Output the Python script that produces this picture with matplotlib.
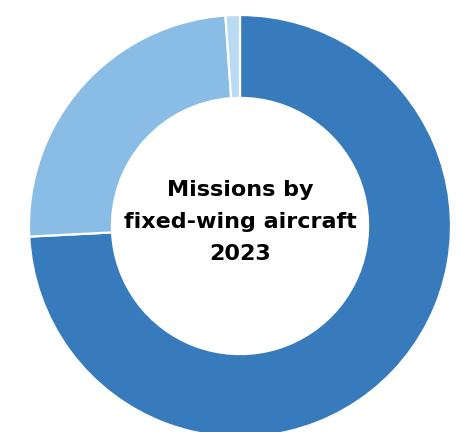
import matplotlib
matplotlib.use("Agg")
import matplotlib.pyplot as plt

# shares of missions (percent), clockwise from 12 o'clock
labels = ["Category A", "Category B", "Category C"]
shares = [74.2, 24.7, 1.1]
colors = ["#387bbd", "#89bde6", "#bad9f2"]
center_text = "Missions by\nfixed-wing aircraft\n2023"

W, H = 461, 432
fig = plt.figure(figsize=(W / 100, H / 100), dpi=100)
cx, cy, r = 240, 226, 211
ax = fig.add_axes([(cx - r) / W, (H - cy - r) / H, 2 * r / W, 2 * r / H])
ax.pie(shares, colors=colors, startangle=90, counterclock=False, radius=1,
       wedgeprops=dict(width=0.393, edgecolor="white", linewidth=1.6))
ax.set_xlim(-1, 1); ax.set_ylim(-1, 1)
ax.set_aspect("equal")
ax.axis("off")
ax.text(0, 0.02, center_text, ha="center", va="center", fontsize=16,
        fontweight="bold", family="DejaVu Sans", linespacing=1.75)

fig.savefig("out.png", dpi=100)
